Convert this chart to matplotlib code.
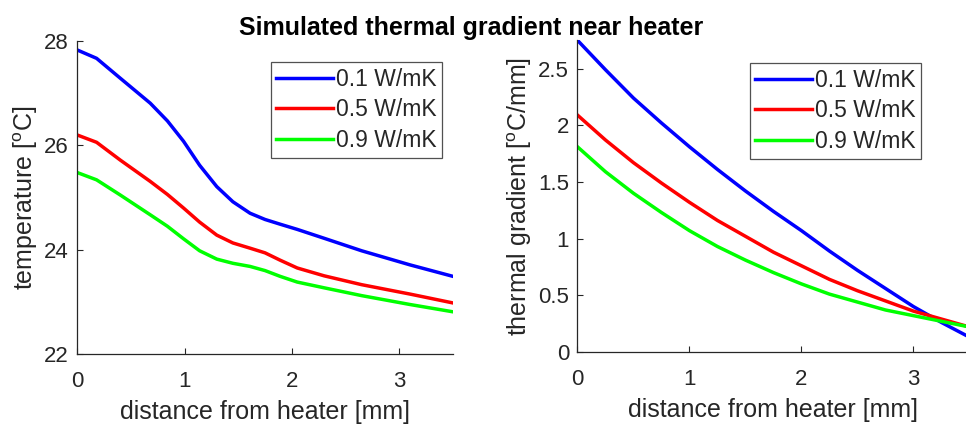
import matplotlib
matplotlib.use("Agg")
import matplotlib.pyplot as plt

# temperature profiles (left panel)
dist_t = [0, 0.18, 0.4, 0.68, 0.84, 0.99, 1.14, 1.30, 1.45, 1.61, 1.75, 1.89, 2.05, 2.3, 2.65, 3.1, 3.5]
temp_01 = [27.83, 27.67, 27.29, 26.81, 26.47, 26.08, 25.62, 25.21, 24.92, 24.70, 24.58, 24.49, 24.39, 24.22, 23.98, 23.71, 23.49]
temp_05 = [26.20, 26.06, 25.72, 25.31, 25.06, 24.80, 24.53, 24.28, 24.13, 24.03, 23.94, 23.80, 23.65, 23.50, 23.33, 23.15, 22.98]
temp_09 = [25.48, 25.34, 25.05, 24.67, 24.45, 24.21, 23.98, 23.82, 23.74, 23.68, 23.60, 23.49, 23.38, 23.27, 23.12, 22.95, 22.81]

# thermal gradient (right panel)
dist_g = [0, 0.25, 0.5, 0.75, 1.0, 1.25, 1.5, 1.75, 2.0, 2.25, 2.5, 2.75, 3.0, 3.25, 3.5]
grad_01 = [2.75, 2.49, 2.24, 2.02, 1.81, 1.61, 1.42, 1.24, 1.07, 0.89, 0.72, 0.56, 0.40, 0.26, 0.13]
grad_05 = [2.09, 1.87, 1.67, 1.49, 1.32, 1.16, 1.02, 0.88, 0.76, 0.64, 0.54, 0.45, 0.36, 0.29, 0.22]
grad_09 = [1.81, 1.59, 1.40, 1.23, 1.07, 0.93, 0.81, 0.70, 0.60, 0.51, 0.44, 0.37, 0.32, 0.27, 0.22]

labels = ["0.1 W/mK", "0.5 W/mK", "0.9 W/mK"]
colors = ["#0000ff", "#ff0000", "#00ff00"]

temp_ticks = [22, 24, 26, 28]
grad_ticks = [0, 0.5, 1, 1.5, 2, 2.5]
grad_tick_labels = ["0", "0.5", "1", "1.5", "2", "2.5"]
dist_ticks = [0, 1, 2, 3]

plt.rcParams["font.family"] = ["Liberation Sans", "DejaVu Sans"]
plt.rcParams["mathtext.fontset"] = "custom"
plt.rcParams["mathtext.rm"] = "Liberation Sans"
plt.rcParams["mathtext.it"] = "Liberation Sans"

ink = "#262626"

fig = plt.figure(figsize=(9.66, 4.24), dpi=100)
ax1 = fig.add_axes([0.080, 0.165, 0.3888, 0.738])
ax2 = fig.add_axes([0.5978, 0.170, 0.4058, 0.735])


def style(ax):
    for side in ("top", "right"):
        ax.spines[side].set_visible(False)
    for side in ("left", "bottom"):
        ax.spines[side].set_color(ink)
        ax.spines[side].set_linewidth(0.9)
    ax.tick_params(direction="in", length=4, width=0.8, colors=ink,
                   labelsize=16)
    ax.tick_params(axis="x", pad=12)
    ax.tick_params(axis="y", pad=6)
    ax.set_xlabel("distance from heater [mm]", fontsize=18, color=ink,
                  labelpad=6)


for ys, lab, col in zip([temp_01, temp_05, temp_09], labels, colors):
    ax1.plot(dist_t, ys, color=col, lw=2.5, label=lab)
ax1.set_xlim(0, 3.5)
ax1.set_ylim(22, 28)
ax1.set_xticks(dist_ticks)
ax1.set_yticks(temp_ticks)
style(ax1)
ax1.set_ylabel(r"temperature [$^\mathrm{o}$C]", fontsize=18, color=ink,
               labelpad=3)

for ys, lab, col in zip([grad_01, grad_05, grad_09], labels, colors):
    ax2.plot(dist_g, ys, color=col, lw=2.5, label=lab)
ax2.set_xlim(0, 3.5)
ax2.set_ylim(0, max(grad_01))
ax2.set_xticks(dist_ticks)
ax2.set_yticks(grad_ticks)
ax2.set_yticklabels(grad_tick_labels)
style(ax2)
ax2.set_ylabel(r"thermal gradient [$^\mathrm{o}$C/mm]", fontsize=18,
               color=ink, labelpad=3)

for ax, anchor in ((ax1, (0.971, 0.933)), (ax2, (0.876, 0.927))):
    leg = ax.legend(loc="upper right", bbox_to_anchor=anchor,
                    fontsize=16.5, frameon=True, fancybox=False,
                    handlelength=2.45, handletextpad=0.13,
                    borderpad=0.25, labelspacing=0.33, borderaxespad=0)
    leg.get_frame().set_edgecolor(ink)
    leg.get_frame().set_linewidth(0.9)
    for t in leg.get_texts():
        t.set_color(ink)

fig.suptitle("Simulated thermal gradient near heater", fontsize=18,
             fontweight="bold", x=0.488, y=0.963)

fig.savefig("out.png", dpi=100)
